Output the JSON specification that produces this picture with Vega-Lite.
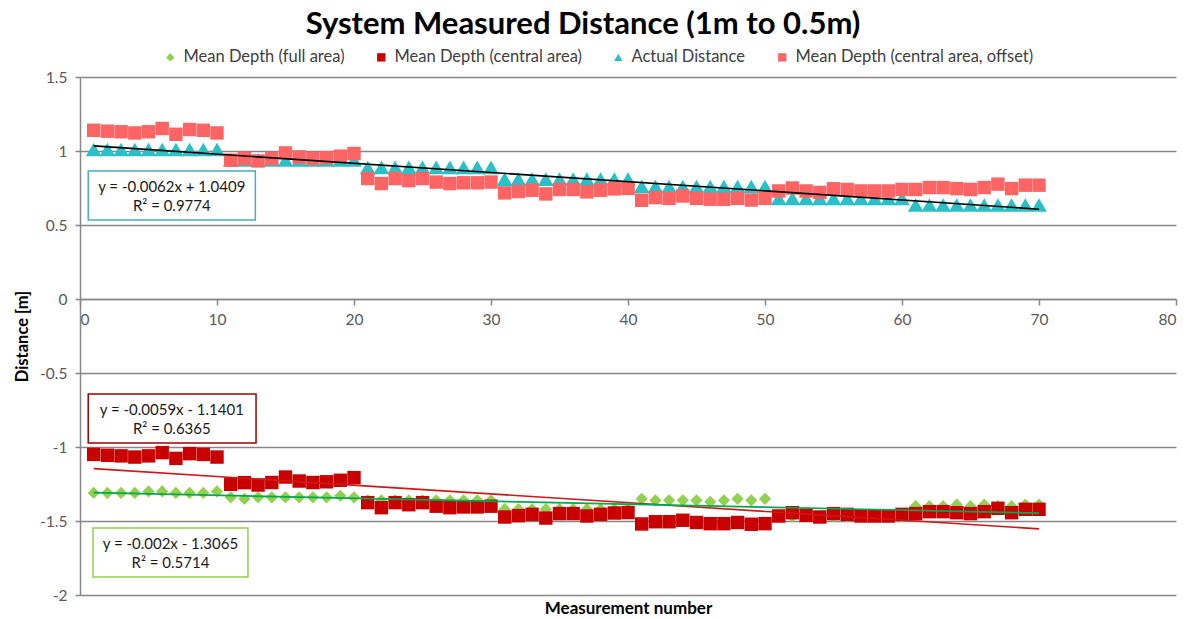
{
  "$schema": "https://vega.github.io/schema/vega-lite/v6.json",
  "width": 1096,
  "height": 518,
  "autosize": {"type": "none"},
  "padding": {"left": 80, "top": 77, "right": 8, "bottom": 24},
  "background": "white",
  "config": {
    "font": "Lato",
    "view": {"stroke": null},
    "legend": {"labelFont": "Lato"},
    "axis": {"labelFont": "Lato", "titleFont": "Lato"}
  },
  "title": {
    "text": "System Measured Distance (1m to 0.5m)",
    "font": "Lato",
    "fontSize": 31,
    "fontWeight": "bold",
    "color": "#000000",
    "anchor": "middle",
    "frame": "group",
    "dx": -45,
    "offset": 8
  },
  "datasets": {
    "pts": [
      {"n": 1, "full": -1.31, "central": -1.05, "actual": 1.01, "offset": 1.14},
      {"n": 2, "full": -1.31, "central": -1.056, "actual": 1.01, "offset": 1.134},
      {"n": 3, "full": -1.31, "central": -1.06, "actual": 1.01, "offset": 1.13},
      {"n": 4, "full": -1.31, "central": -1.068, "actual": 1.01, "offset": 1.122},
      {"n": 5, "full": -1.30, "central": -1.06, "actual": 1.01, "offset": 1.13},
      {"n": 6, "full": -1.30, "central": -1.038, "actual": 1.01, "offset": 1.152},
      {"n": 7, "full": -1.31, "central": -1.077, "actual": 1.01, "offset": 1.113},
      {"n": 8, "full": -1.31, "central": -1.045, "actual": 1.01, "offset": 1.145},
      {"n": 9, "full": -1.31, "central": -1.05, "actual": 1.01, "offset": 1.14},
      {"n": 10, "full": -1.30, "central": -1.068, "actual": 1.01, "offset": 1.122},
      {"n": 11, "full": -1.34, "central": -1.252, "actual": 0.94, "offset": 0.938},
      {"n": 12, "full": -1.35, "central": -1.241, "actual": 0.94, "offset": 0.949},
      {"n": 13, "full": -1.34, "central": -1.257, "actual": 0.94, "offset": 0.933},
      {"n": 14, "full": -1.34, "central": -1.24, "actual": 0.94, "offset": 0.95},
      {"n": 15, "full": -1.34, "central": -1.203, "actual": 0.94, "offset": 0.987},
      {"n": 16, "full": -1.34, "central": -1.23, "actual": 0.94, "offset": 0.96},
      {"n": 17, "full": -1.34, "central": -1.24, "actual": 0.94, "offset": 0.95},
      {"n": 18, "full": -1.34, "central": -1.235, "actual": 0.94, "offset": 0.955},
      {"n": 19, "full": -1.33, "central": -1.225, "actual": 0.94, "offset": 0.965},
      {"n": 20, "full": -1.34, "central": -1.207, "actual": 0.94, "offset": 0.983},
      {"n": 21, "full": -1.36, "central": -1.376, "actual": 0.89, "offset": 0.814},
      {"n": 22, "full": -1.36, "central": -1.41, "actual": 0.89, "offset": 0.78},
      {"n": 23, "full": -1.36, "central": -1.376, "actual": 0.89, "offset": 0.814},
      {"n": 24, "full": -1.36, "central": -1.39, "actual": 0.89, "offset": 0.80},
      {"n": 25, "full": -1.36, "central": -1.376, "actual": 0.89, "offset": 0.814},
      {"n": 26, "full": -1.36, "central": -1.40, "actual": 0.89, "offset": 0.79},
      {"n": 27, "full": -1.36, "central": -1.41, "actual": 0.89, "offset": 0.78},
      {"n": 28, "full": -1.36, "central": -1.405, "actual": 0.89, "offset": 0.785},
      {"n": 29, "full": -1.36, "central": -1.405, "actual": 0.89, "offset": 0.785},
      {"n": 30, "full": -1.36, "central": -1.40, "actual": 0.89, "offset": 0.79},
      {"n": 31, "full": -1.42, "central": -1.473, "actual": 0.81, "offset": 0.717},
      {"n": 32, "full": -1.42, "central": -1.464, "actual": 0.81, "offset": 0.726},
      {"n": 33, "full": -1.42, "central": -1.455, "actual": 0.81, "offset": 0.735},
      {"n": 34, "full": -1.42, "central": -1.48, "actual": 0.81, "offset": 0.71},
      {"n": 35, "full": -1.42, "central": -1.45, "actual": 0.81, "offset": 0.74},
      {"n": 36, "full": -1.42, "central": -1.45, "actual": 0.81, "offset": 0.74},
      {"n": 37, "full": -1.42, "central": -1.466, "actual": 0.81, "offset": 0.724},
      {"n": 38, "full": -1.42, "central": -1.455, "actual": 0.81, "offset": 0.735},
      {"n": 39, "full": -1.42, "central": -1.446, "actual": 0.81, "offset": 0.744},
      {"n": 40, "full": -1.42, "central": -1.443, "actual": 0.81, "offset": 0.747},
      {"n": 41, "full": -1.35, "central": -1.52, "actual": 0.76, "offset": 0.667},
      {"n": 42, "full": -1.36, "central": -1.505, "actual": 0.76, "offset": 0.685},
      {"n": 43, "full": -1.36, "central": -1.505, "actual": 0.76, "offset": 0.68},
      {"n": 44, "full": -1.36, "central": -1.495, "actual": 0.76, "offset": 0.696},
      {"n": 45, "full": -1.36, "central": -1.51, "actual": 0.76, "offset": 0.68},
      {"n": 46, "full": -1.37, "central": -1.518, "actual": 0.76, "offset": 0.674},
      {"n": 47, "full": -1.36, "central": -1.518, "actual": 0.76, "offset": 0.674},
      {"n": 48, "full": -1.35, "central": -1.51, "actual": 0.76, "offset": 0.68},
      {"n": 49, "full": -1.36, "central": -1.522, "actual": 0.76, "offset": 0.669},
      {"n": 50, "full": -1.35, "central": -1.518, "actual": 0.76, "offset": 0.68},
      {"n": 51, "full": -1.47, "central": -1.466, "actual": 0.68, "offset": 0.73},
      {"n": 52, "full": -1.47, "central": -1.444, "actual": 0.68, "offset": 0.75},
      {"n": 53, "full": -1.47, "central": -1.462, "actual": 0.68, "offset": 0.73},
      {"n": 54, "full": -1.47, "central": -1.473, "actual": 0.68, "offset": 0.72},
      {"n": 55, "full": -1.47, "central": -1.45, "actual": 0.68, "offset": 0.745},
      {"n": 56, "full": -1.47, "central": -1.455, "actual": 0.68, "offset": 0.74},
      {"n": 57, "full": -1.47, "central": -1.466, "actual": 0.68, "offset": 0.73},
      {"n": 58, "full": -1.47, "central": -1.466, "actual": 0.68, "offset": 0.73},
      {"n": 59, "full": -1.47, "central": -1.466, "actual": 0.68, "offset": 0.73},
      {"n": 60, "full": -1.47, "central": -1.455, "actual": 0.68, "offset": 0.74},
      {"n": 61, "full": -1.40, "central": -1.45, "actual": 0.635, "offset": 0.74},
      {"n": 62, "full": -1.40, "central": -1.437, "actual": 0.635, "offset": 0.753},
      {"n": 63, "full": -1.40, "central": -1.437, "actual": 0.635, "offset": 0.753},
      {"n": 64, "full": -1.39, "central": -1.444, "actual": 0.635, "offset": 0.746},
      {"n": 65, "full": -1.40, "central": -1.45, "actual": 0.635, "offset": 0.74},
      {"n": 66, "full": -1.39, "central": -1.437, "actual": 0.635, "offset": 0.753},
      {"n": 67, "full": -1.40, "central": -1.414, "actual": 0.635, "offset": 0.776},
      {"n": 68, "full": -1.40, "central": -1.444, "actual": 0.635, "offset": 0.746},
      {"n": 69, "full": -1.39, "central": -1.421, "actual": 0.635, "offset": 0.769},
      {"n": 70, "full": -1.39, "central": -1.421, "actual": 0.635, "offset": 0.769}
    ],
    "trends": [
      {"t": "black", "n": 1, "value": 1.0347},
      {"t": "black", "n": 70, "value": 0.6069},
      {"t": "red", "n": 1, "value": -1.146},
      {"t": "red", "n": 70, "value": -1.5531},
      {"t": "green", "n": 1, "value": -1.3085},
      {"t": "green", "n": 70, "value": -1.4465}
    ],
    "boxes": [
      {"b": "boxblue", "n": 0.6, "n2": 12.8, "value": 0.865, "value2": 0.534},
      {"b": "boxred", "n": 0.6, "n2": 12.85, "value": -0.642, "value2": -0.973},
      {"b": "boxgreen", "n": 0.95, "n2": 12.26, "value": -1.547, "value2": -1.878}
    ],
    "labels": [
      {"n": 6.7, "value": 0.757, "text": "y = -0.0062x + 1.0409"},
      {"n": 6.7, "value": 0.628, "text": "R² = 0.9774"},
      {"n": 6.7, "value": -0.75, "text": "y = -0.0059x - 1.1401"},
      {"n": 6.7, "value": -0.878, "text": "R² = 0.6365"},
      {"n": 6.6, "value": -1.655, "text": "y = -0.002x - 1.3065"},
      {"n": 6.6, "value": -1.784, "text": "R² = 0.5714"}
    ]
  },
  "encoding": {
    "x": {
      "field": "n",
      "type": "quantitative",
      "scale": {"domain": [0, 80], "nice": false, "zero": false},
      "axis": {
        "title": "Measurement number",
        "values": [0, 10, 20, 30, 40, 50, 60, 70, 80],
        "orient": "bottom",
        "offset": -296,
        "grid": false,
        "domainColor": "#878787",
        "domainWidth": 1.5,
        "tickColor": "#878787",
        "tickWidth": 1.5,
        "tickSize": 6,
        "labelFontSize": 15.5,
        "labelColor": "#595959",
        "labelPadding": 7,
        "titleFontSize": 17,
        "titleFontWeight": "bold",
        "titleColor": "#000000",
        "titleY": 301,
        "titleBaseline": "top"
      }
    },
    "y": {
      "field": "value",
      "type": "quantitative",
      "scale": {"domain": [-2, 1.5], "nice": false, "zero": false},
      "axis": {
        "title": "Distance [m]",
        "values": [-2, -1.5, -1, -0.5, 0, 0.5, 1, 1.5],
        "labelExpr": "'' + datum.value",
        "grid": true,
        "gridColor": "#878787",
        "gridWidth": 1.5,
        "domainColor": "#878787",
        "domainWidth": 1.5,
        "tickColor": "#878787",
        "tickWidth": 1.5,
        "tickSize": 5,
        "labelFontSize": 15.5,
        "labelColor": "#595959",
        "labelPadding": 8,
        "titleFontSize": 16.5,
        "titleFontWeight": "bold",
        "titleColor": "#000000",
        "titlePadding": 9
      }
    }
  },
  "layer": [
    {
      "data": {"name": "pts"},
      "transform": [{"fold": ["full"], "as": ["series", "value"]}],
      "mark": {"type": "point", "filled": true, "opacity": 1, "size": 150},
      "encoding": {
        "color": {
          "datum": "Mean Depth (full area)",
          "type": "nominal",
          "scale": {
            "domain": ["Mean Depth (full area)", "Mean Depth (central area)", "Actual Distance", "Mean Depth (central area, offset)"],
            "range": ["#92D050", "#C80000", "#2BC0C8", "#FF6464"]
          },
          "legend": {
            "title": null,
            "orient": "none",
            "direction": "horizontal",
            "legendX": 82,
            "legendY": -28,
            "labelFontSize": 16.5,
            "labelColor": "#404040",
            "labelLimit": 0,
            "symbolSize": 70,
            "columnPadding": 28,
            "labelOffset": 5
          }
        },
        "shape": {
          "datum": "Mean Depth (full area)",
          "type": "nominal",
          "scale": {
            "domain": ["Mean Depth (full area)", "Mean Depth (central area)", "Actual Distance", "Mean Depth (central area, offset)"],
            "range": ["diamond", "square", "triangle-up", "square"]
          },
          "legend": {
            "title": null,
            "orient": "none",
            "direction": "horizontal",
            "legendX": 82,
            "legendY": -28,
            "labelFontSize": 16.5,
            "labelColor": "#404040",
            "labelLimit": 0,
            "symbolSize": 70,
            "columnPadding": 28,
            "labelOffset": 5
          }
        }
      }
    },
    {
      "data": {"name": "pts"},
      "transform": [{"fold": ["central"], "as": ["series", "value"]}],
      "mark": {"type": "point", "filled": true, "opacity": 1, "size": 180},
      "encoding": {
        "color": {"datum": "Mean Depth (central area)", "type": "nominal"},
        "shape": {"datum": "Mean Depth (central area)", "type": "nominal"}
      }
    },
    {
      "data": {"name": "pts"},
      "transform": [{"fold": ["actual"], "as": ["series", "value"]}],
      "mark": {"type": "point", "filled": true, "opacity": 1, "size": 250},
      "encoding": {
        "color": {"datum": "Actual Distance", "type": "nominal"},
        "shape": {"datum": "Actual Distance", "type": "nominal"}
      }
    },
    {
      "data": {"name": "pts"},
      "transform": [{"fold": ["offset"], "as": ["series", "value"]}],
      "mark": {"type": "point", "filled": true, "opacity": 1, "size": 180},
      "encoding": {
        "color": {"datum": "Mean Depth (central area, offset)", "type": "nominal"},
        "shape": {"datum": "Mean Depth (central area, offset)", "type": "nominal"}
      }
    },
    {
      "data": {"name": "trends"},
      "mark": {"type": "line", "strokeWidth": 1.6},
      "encoding": {
        "detail": {"field": "t", "type": "nominal"},
        "stroke": {
          "field": "t",
          "type": "nominal",
          "scale": {
            "domain": ["black", "red", "green", "boxblue", "boxred", "boxgreen"],
            "range": ["#000000", "#D01818", "#00A850", "#4BACC6", "#A00000", "#92D050"]
          },
          "legend": null
        }
      }
    },
    {
      "data": {"name": "boxes"},
      "mark": {"type": "rect", "fill": "white", "strokeWidth": 1.5},
      "encoding": {
        "x2": {"field": "n2"},
        "y2": {"field": "value2"},
        "stroke": {"field": "b", "type": "nominal", "legend": null}
      }
    },
    {
      "data": {"name": "labels"},
      "mark": {"type": "text", "font": "Lato", "fontSize": 15, "color": "#1a1a1a", "align": "center", "baseline": "middle"},
      "encoding": {
        "text": {"field": "text", "type": "nominal"}
      }
    }
  ]
}
